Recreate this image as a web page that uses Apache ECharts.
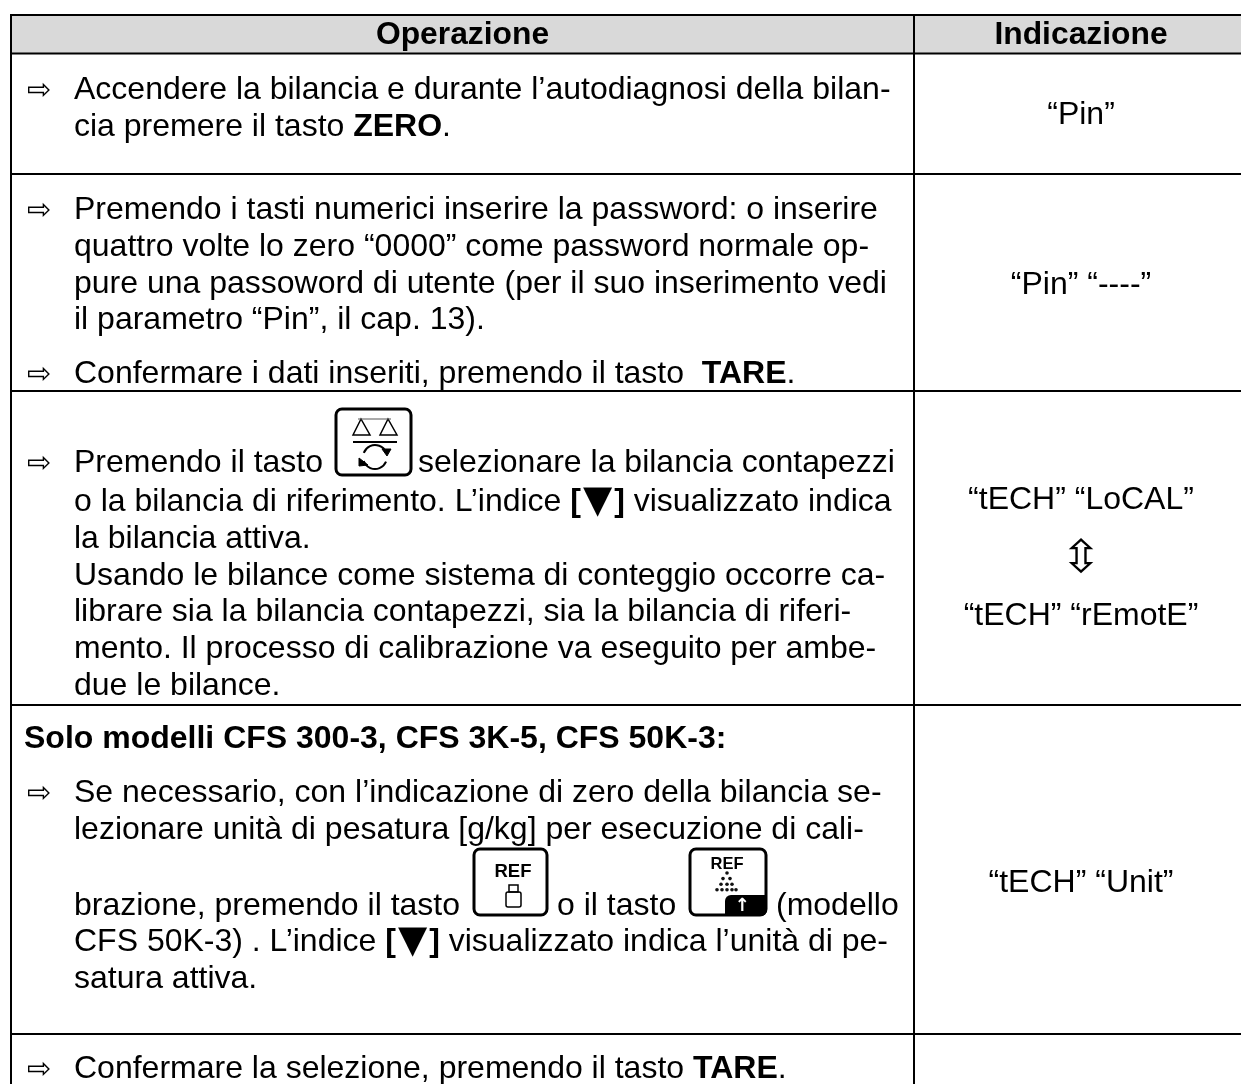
<!DOCTYPE html>
<html>
<head>
<meta charset="utf-8">
<title>Operazione / Indicazione</title>
<script src="https://cdn.jsdelivr.net/npm/echarts@6/dist/echarts.min.js"></script>
<style>
  html, body { margin: 0; padding: 0; background: #fff; }
  #main { width: 1241px; height: 1084px; }
</style>
</head>
<body>
<div id="main"></div>
<script>
// table content, {b|...} marks the bold runs, {t|...} the index triangle
var headers = ["Operazione", "Indicazione"];
var stepLines = [
  "Accendere la bilancia e durante l’autodiagnosi della bilan-",
  "cia premere il tasto {b|ZERO}.",
  "Premendo i tasti numerici inserire la password: o inserire",
  "quattro volte lo zero “0000” come password normale op-",
  "pure una passoword di utente (per il suo inserimento vedi",
  "il parametro “Pin”, il cap. 13).",
  "Confermare i dati inseriti, premendo il tasto  {b|TARE}.",
  "Premendo il tasto",
  "selezionare la bilancia contapezzi",
  "o la bilancia di riferimento. L’indice {b|[}{t|▼}{b|]} visualizzato indica",
  "la bilancia attiva.",
  "Usando le bilance come sistema di conteggio occorre ca-",
  "librare sia la bilancia contapezzi, sia la bilancia di riferi-",
  "mento. Il processo di calibrazione va eseguito per ambe-",
  "due le bilance.",
  "{b|Solo modelli CFS 300-3, CFS 3K-5, CFS 50K-3:}",
  "Se necessario, con l’indicazione di zero della bilancia se-",
  "lezionare unità di pesatura [g/kg] per esecuzione di cali-",
  "brazione, premendo il tasto",
  "o il tasto",
  "(modello",
  "CFS 50K-3) . L’indice {b|[}{t|▼}{b|]} visualizzato indica l’unità di pe-",
  "satura attiva.",
  "Confermare la selezione, premendo il tasto {b|TARE}."
];
var indications = ["“Pin”", "“Pin” “----”", "“tECH” “LoCAL”", "“tECH” “rEmotE”", "“tECH” “Unit”"];
var arrowGlyph = "⇨";
var swapGlyph = "⇳";

// layout, kept apart from the text above
var lineX = [74, 74, 74, 74, 74, 74, 74, 74, 418, 74, 74, 74, 74, 74, 74, 24, 74, 74, 74, 557, 776, 74, 74, 74];
var lineY = [90, 127, 210, 247, 284, 320, 374, 463, 463, 502, 539, 576, 612, 649, 686, 739, 793, 830, 906, 906, 906, 942, 979, 1069];
var arrowRows = [0, 2, 6, 7, 16, 23];
var rowLines = [15, 53.5, 174, 391, 705, 1034];
var leftX = 11, splitX = 914, rightX = 1241, midX = 1081;
var font = '"Liberation Sans", Arial, sans-serif';
var fontSize = 32;

var chart = echarts.init(document.getElementById("main"));
var graphic = [];

function label(text, x, y, align, size, family, weight) {
  graphic.push({
    type: "text", z: 10, x: x, y: y,
    style: {
      text: text, fill: "#000", align: align || "left", verticalAlign: "middle",
      font: (weight || "normal") + " " + (size || fontSize) + "px " + (family || font),
      rich: {
        b: { fill: "#000", font: "bold " + (size || fontSize) + "px " + font },
        t: { fill: "#000", font: '38px "DejaVu Sans"', padding: [0, 2, 0, 2] }
      }
    }
  });
}
function rule(x1, y1, x2, y2, w) {
  graphic.push({ type: "line", z: 5, shape: { x1: x1, y1: y1, x2: x2, y2: y2 }, style: { stroke: "#000", lineWidth: w || 2 } });
}
function shape(type, sh, st, z) {
  graphic.push({ type: type, z: z || 12, shape: sh, style: Object.assign({ fill: "none", stroke: "#000", lineWidth: 2 }, st) });
}

// grid, the table runs off the right edge of the page
graphic.push({ type: "rect", z: 1, shape: { x: leftX, y: rowLines[0], width: rightX - leftX, height: rowLines[1] - rowLines[0] }, style: { fill: "#d9d9d9" } });
rowLines.forEach(function (y) { rule(leftX - 1, y, rightX, y, 2); });
rule(leftX, rowLines[0], leftX, 1084);
rule(splitX, rowLines[0], splitX, 1084);

// header
label(headers[0], 462.5, 35.5, "center", 31.8, font, "bold");
label(headers[1], midX, 35.5, "center", 31.8, font, "bold");

// left column
stepLines.forEach(function (t, i) { label(t, lineX[i], lineY[i]); });
arrowRows.forEach(function (i) { label(arrowGlyph, 27, lineY[i] + 1, "left", 29, '"DejaVu Sans"'); });

// right column
label(indications[0], midX, 115, "center");
label(indications[1], midX, 285, "center");
label(indications[2], midX, 500, "center");
graphic.push({
  type: "text", z: 10, x: midX, y: 560, scaleX: 1.1,
  style: { text: swapGlyph, fill: "#000", align: "center", verticalAlign: "middle", font: '45px "DejaVu Sans"' }
});
label(indications[3], midX, 616, "center");
label(indications[4], midX, 883, "center");

// key icons
function keyFrame(x, y, w, h) {
  shape("rect", { x: x, y: y, width: w, height: h, r: 6 }, { lineWidth: 3 });
}
// scale key
keyFrame(336, 409, 75, 66);
shape("polygon", { points: [[361, 419], [353, 435], [370, 435]] }, { lineWidth: 1.5 });
shape("polygon", { points: [[388, 419], [380, 435], [397, 435]] }, { lineWidth: 1.5 });
shape("line", { x1: 358, y1: 419, x2: 391, y2: 419 }, { lineWidth: 1, stroke: "#555" });
shape("line", { x1: 353, y1: 442, x2: 397, y2: 442 }, { lineWidth: 2 });
shape("arc", { cx: 375, cy: 457, r: 12, startAngle: 3.5, endAngle: 5.9 }, { lineWidth: 2 });
shape("arc", { cx: 375, cy: 457, r: 12, startAngle: 0.4, endAngle: 2.8 }, { lineWidth: 2 });
shape("polygon", { points: [[382, 449], [391, 449], [387, 456]] }, { fill: "#000", lineWidth: 1 });
shape("polygon", { points: [[359, 458], [368, 465], [359, 466]] }, { fill: "#000", lineWidth: 1 });
// REF weight key
keyFrame(474, 849, 73, 66);
label("REF", 513, 872, "center", 18.5, font, "bold");
shape("rect", { x: 509, y: 885, width: 9, height: 7 }, { lineWidth: 1.5 });
shape("rect", { x: 506, y: 892, width: 15, height: 15, r: 2 }, { lineWidth: 1.5 });
// REF pieces key
keyFrame(690, 849, 76, 66);
label("REF", 727, 864, "center", 16.5, font, "bold");
graphic.push({ type: "rect", z: 13, shape: { x: 725, y: 895, width: 42, height: 21, r: [6, 0, 6, 0] }, style: { fill: "#000" } });
graphic.push({ type: "text", z: 14, x: 742, y: 906, style: { text: "↑", fill: "#fff", align: "center", verticalAlign: "middle", font: 'bold 18px "DejaVu Sans"' } });
[[727], [723, 730], [721, 727, 732], [717, 722, 727, 732, 736]].forEach(function (row, r) {
  row.forEach(function (cx) {
    graphic.push({ type: "circle", z: 13, shape: { cx: cx, cy: 873 + r * 5.6, r: 1.8 }, style: { fill: "#111" } });
  });
});

chart.setOption({ animation: false, backgroundColor: "#fff", graphic: graphic });
</script>
</body>
</html>
